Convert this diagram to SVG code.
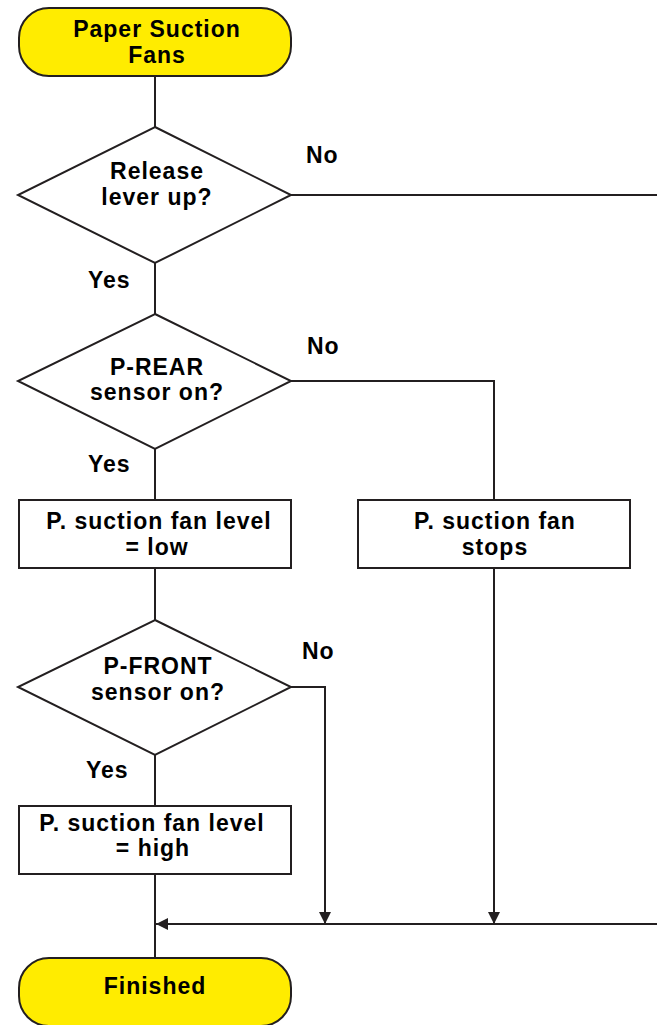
<svg xmlns="http://www.w3.org/2000/svg" width="657" height="1025" viewBox="0 0 657 1025">
<defs>
<style>
.shape{fill:#fff;stroke:#231f20;stroke-width:2}
.term{fill:#ffec00;stroke:#231f20;stroke-width:2}
.edge{fill:none;stroke:#231f20;stroke-width:2}
text{font-family:"Liberation Sans",Arial,sans-serif;font-weight:bold;font-size:23px;letter-spacing:1px;fill:#000}
.c{text-anchor:middle}
</style>
<marker id="arr" viewBox="0 0 12 12" refX="12" refY="6" markerWidth="12" markerHeight="12" markerUnits="userSpaceOnUse" orient="auto">
<path d="M0,0 L12,6 L0,12 Z" fill="#231f20"/>
</marker>
</defs>
<rect width="657" height="1025" fill="#fff"/>
<g id="connectors">
<line class="edge" x1="155" y1="76" x2="155" y2="127"/>
<line class="edge" x1="291" y1="195" x2="657" y2="195"/>
<line class="edge" x1="155" y1="263" x2="155" y2="314"/>
<polyline class="edge" points="291,381 494,381 494,500"/>
<line class="edge" x1="155" y1="449" x2="155" y2="500"/>
<line class="edge" x1="155" y1="568" x2="155" y2="620"/>
<polyline class="edge" points="291,687 325,687 325,924" marker-end="url(#arr)"/>
<line class="edge" x1="494" y1="568" x2="494" y2="924" marker-end="url(#arr)"/>
<line class="edge" x1="155" y1="755" x2="155" y2="806"/>
<line class="edge" x1="155" y1="874" x2="155" y2="958"/>
<line class="edge" x1="657" y1="924" x2="156" y2="924" marker-end="url(#arr)"/>
<text x="306" y="163">No</text>
<text x="88" y="288">Yes</text>
<text x="307" y="354">No</text>
<text x="88" y="472">Yes</text>
<text x="302" y="659">No</text>
<text x="86" y="778">Yes</text>
</g>
<g id="start">
<rect class="term" x="19" y="8" width="272" height="68" rx="30" ry="30"/>
<text class="c" x="157" y="37">Paper Suction</text>
<text class="c" x="157" y="63">Fans</text>
</g>
<g id="release">
<polygon class="shape" points="155,127 291,195 155,263 18,195"/>
<text class="c" x="157" y="179">Release</text>
<text class="c" x="157" y="205">lever up?</text>
</g>
<g id="prear">
<polygon class="shape" points="155,314 291,381 155,449 18,381"/>
<text class="c" x="157" y="375">P-REAR</text>
<text class="c" x="157" y="400">sensor on?</text>
</g>
<g id="low">
<rect class="shape" x="19" y="500" width="272" height="68"/>
<text class="c" x="159" y="529">P. suction fan level</text>
<text class="c" x="157" y="555">= low</text>
</g>
<g id="stops">
<rect class="shape" x="358" y="500" width="272" height="68"/>
<text class="c" x="495" y="529">P. suction fan</text>
<text class="c" x="495" y="555">stops</text>
</g>
<g id="pfront">
<polygon class="shape" points="155,620 291,687 155,755 18,687"/>
<text class="c" x="158" y="674">P-FRONT</text>
<text class="c" x="158" y="700">sensor on?</text>
</g>
<g id="high">
<rect class="shape" x="19" y="806" width="272" height="68"/>
<text class="c" x="152" y="831">P. suction fan level</text>
<text class="c" x="153" y="856">= high</text>
</g>
<g id="finished">
<rect class="term" x="19" y="958" width="272" height="68" rx="30" ry="30"/>
<text class="c" x="155" y="994">Finished</text>
</g>
</svg>
